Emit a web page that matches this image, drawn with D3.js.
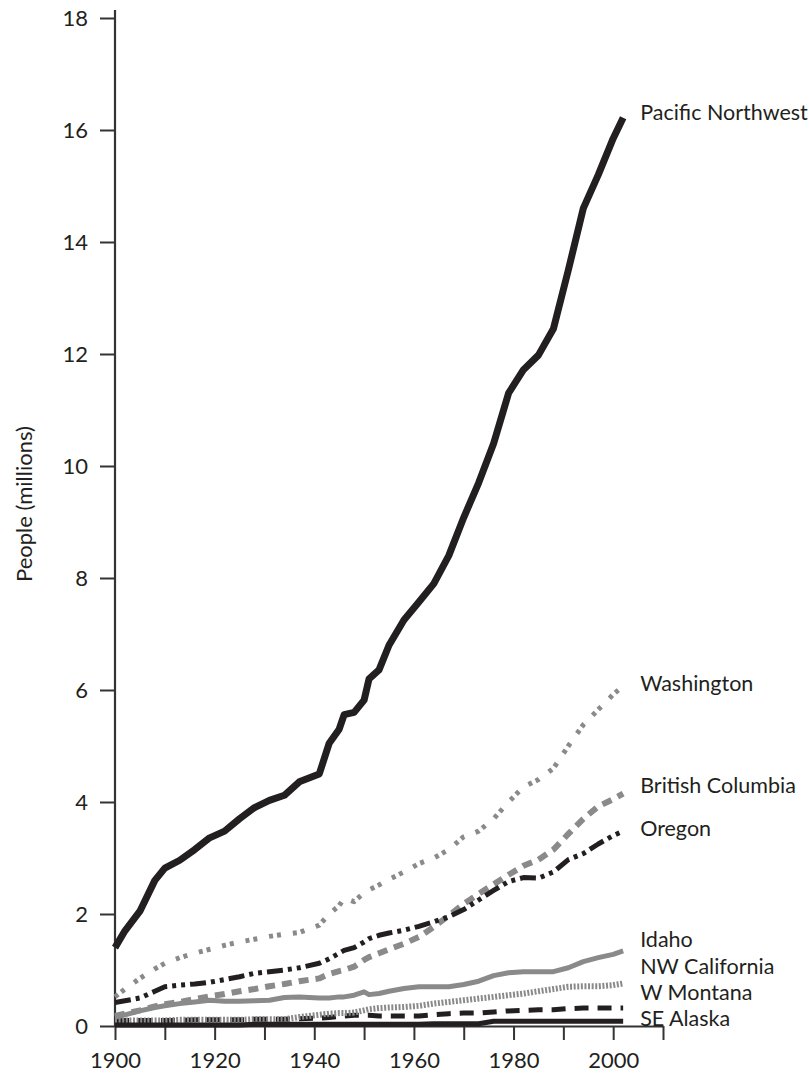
<!DOCTYPE html>
<html>
<head>
<meta charset="utf-8">
<script src="https://cdn.jsdelivr.net/npm/d3@7"></script>
<style>
  html, body { margin: 0; padding: 0; background: #fff; }
  svg { display: block; }
  text { font-family: Lato, "Open Sans", sans-serif; fill: #231f20; }
</style>
</head>
<body>
<svg id="chart" width="809" height="1075"></svg>
<script>
// ---- data (millions of people) ----
const years = [1900,1902,1905,1908,1910,1913,1916,1919,1922,1925,1928,1931,1934,1937,1941,1943,1945,1946,1948,1950,1951,1953,1955,1958,1961,1964,1967,1970,1973,1976,1979,1982,1985,1988,1991,1994,1997,2000,2002];

const pacificNorthwest = [1.4,1.7,2.05,2.6,2.82,2.96,3.15,3.36,3.48,3.7,3.9,4.03,4.12,4.36,4.5,5.05,5.3,5.56,5.6,5.82,6.2,6.36,6.8,7.25,7.57,7.9,8.4,9.08,9.7,10.4,11.3,11.72,11.98,12.45,13.5,14.6,15.2,15.85,16.22];
const washington = [0.52,0.66,0.85,1.02,1.12,1.22,1.3,1.37,1.44,1.5,1.55,1.6,1.64,1.67,1.8,2.0,2.15,2.28,2.22,2.38,2.43,2.52,2.62,2.75,2.9,3.0,3.15,3.38,3.48,3.7,4.0,4.27,4.4,4.6,5.0,5.38,5.65,5.92,6.07];
const britishColumbia = [0.18,0.22,0.28,0.35,0.39,0.43,0.48,0.53,0.57,0.62,0.66,0.71,0.75,0.8,0.85,0.93,0.98,1.0,1.06,1.18,1.23,1.3,1.37,1.47,1.59,1.77,1.97,2.18,2.36,2.53,2.7,2.86,2.97,3.15,3.43,3.7,3.92,4.05,4.15];
const oregon = [0.42,0.45,0.5,0.62,0.7,0.73,0.75,0.78,0.83,0.88,0.94,0.97,1.0,1.04,1.12,1.2,1.3,1.35,1.4,1.5,1.56,1.62,1.66,1.71,1.78,1.86,1.95,2.08,2.25,2.42,2.58,2.65,2.64,2.75,2.97,3.08,3.25,3.4,3.48];
const idaho = [0.16,0.2,0.27,0.33,0.36,0.4,0.43,0.46,0.44,0.44,0.45,0.46,0.51,0.52,0.5,0.5,0.52,0.52,0.55,0.61,0.56,0.58,0.62,0.67,0.7,0.7,0.7,0.74,0.8,0.9,0.95,0.97,0.97,0.97,1.04,1.15,1.22,1.28,1.34];
const nwCalifornia = [0.1,0.1,0.1,0.1,0.1,0.11,0.11,0.11,0.11,0.11,0.12,0.12,0.12,0.16,0.2,0.22,0.23,0.23,0.24,0.28,0.3,0.32,0.33,0.34,0.36,0.4,0.43,0.46,0.49,0.52,0.55,0.58,0.62,0.66,0.7,0.71,0.71,0.73,0.76];
const wMontana = [0.09,0.1,0.1,0.1,0.1,0.1,0.11,0.11,0.11,0.11,0.12,0.12,0.12,0.13,0.14,0.15,0.17,0.18,0.19,0.19,0.19,0.18,0.18,0.18,0.18,0.2,0.22,0.23,0.23,0.25,0.27,0.28,0.29,0.29,0.31,0.32,0.32,0.32,0.32];
const seAlaska = [0.02,0.02,0.02,0.02,0.02,0.02,0.02,0.02,0.02,0.02,0.03,0.03,0.03,0.03,0.03,0.03,0.03,0.03,0.03,0.03,0.03,0.03,0.03,0.03,0.03,0.04,0.04,0.04,0.04,0.085,0.085,0.085,0.085,0.085,0.085,0.085,0.085,0.085,0.085];

const seriesNames = ["Pacific Northwest","Washington","British Columbia","Oregon","Idaho","NW California","W Montana","SE Alaska"];
const yTicks = [0,2,4,6,8,10,12,14,16,18];
const xTicks = [1900,1910,1920,1930,1940,1950,1960,1970,1980,1990,2000,2010];
const xTickLabels = [1900,1920,1940,1960,1980,2000];
const yAxisTitle = "People (millions)";

// ---- styles (not data) ----
const dark = "#231f20", gray = "#8a8a8a";
const fontSize = "21.5px";
const series = [
  {name: seriesNames[6], values: wMontana,        color: dark, width: 5, dash: "14,9",            labelAt: 0.607},
  {name: seriesNames[5], values: nwCalifornia,    color: gray, width: 6, dash: "2,1.6",           labelAt: 1.07},
  {name: seriesNames[7], values: seAlaska,        color: dark, width: 5, dash: null,              labelAt: 0.143},
  {name: seriesNames[4], values: idaho,           color: gray, width: 5, dash: null,              labelAt: 1.54},
  {name: seriesNames[2], values: britishColumbia, color: gray, width: 6, dash: "10,7",            labelAt: 4.29},
  {name: seriesNames[3], values: oregon,          color: dark, width: 5, dash: "16,5,4,5,4,5",    labelAt: 3.52},
  {name: seriesNames[1], values: washington,      color: gray, width: 5, dash: "4,4,4,12",        labelAt: 6.12},
  {name: seriesNames[0], values: pacificNorthwest,color: dark, width: 7, dash: null,              labelAt: 16.32}
];

const svg = d3.select("#chart");
const x = d3.scaleLinear().domain([1900, 2010]).range([115, 663]);
const y = d3.scaleLinear().domain([0, 18]).range([1026, 18]);

// y axis
const yAxis = d3.axisLeft(y).tickValues(yTicks).tickSize(15).tickPadding(12).tickSizeOuter(0);
const gy = svg.append("g").attr("transform", `translate(${x(1900)},0)`).call(yAxis);
gy.select(".domain").remove();
gy.selectAll(".tick line").attr("stroke", "#333").attr("stroke-width", 2);
gy.selectAll(".tick text").style("font-size", "22px").attr("fill", dark);
svg.append("line").attr("x1", x(1900)).attr("x2", x(1900)).attr("y1", y(18) - 8).attr("y2", y(0))
  .attr("stroke", "#333").attr("stroke-width", 2.2);

// x axis
const xAxis = d3.axisBottom(x).tickValues(xTicks).tickSize(14).tickPadding(12).tickSizeOuter(0)
  .tickFormat(d => xTickLabels.includes(d) ? String(d) : "");
const gx = svg.append("g").attr("transform", `translate(0,${y(0)})`).call(xAxis);
gx.select(".domain").attr("stroke", "#333").attr("stroke-width", 2.2);
gx.selectAll(".tick line").attr("stroke", "#333").attr("stroke-width", 2);
gx.selectAll(".tick text").style("font-size", "22px").attr("fill", dark);

// y axis title
svg.append("text")
  .attr("transform", `translate(32,504) rotate(-90)`)
  .attr("text-anchor", "middle")
  .style("font-size", "22px")
  .text(yAxisTitle);

// lines
const line = d3.line().x((d, i) => x(years[i])).y(d => y(d)).curve(d3.curveLinear);
series.forEach(s => {
  svg.append("path")
    .attr("d", line(s.values))
    .attr("fill", "none")
    .attr("stroke", s.color)
    .attr("stroke-width", s.width)
    .attr("stroke-linejoin", "round")
    .attr("stroke-dasharray", s.dash)
    .attr("stroke-linecap", "butt");
});

// labels
series.forEach(s => {
  svg.append("text")
    .attr("x", x(years[years.length - 1]) + 17)
    .attr("y", y(s.labelAt))
    .attr("dy", "0.35em")
    .style("font-size", fontSize)
    .text(s.name);
});
</script>
</body>
</html>
